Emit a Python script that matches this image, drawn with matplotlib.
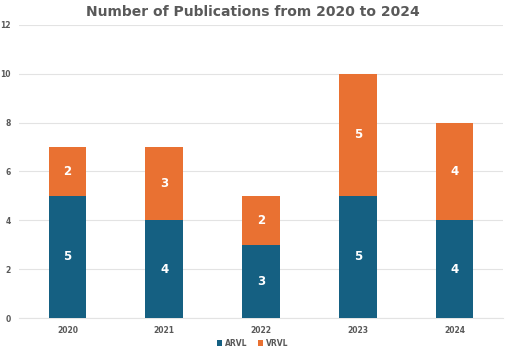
import numpy as np
import matplotlib.pyplot as plt

# Datos
years = ["2020", "2021", "2022", "2023", "2024"]
arvl = [5, 4, 3, 5, 4]
vrvl = [2, 3, 2, 5, 4]

col_arvl = "#156082"
col_vrvl = "#E97132"
gris = "#595959"

fig = plt.figure(figsize=(5.05, 3.51), dpi=100)
ax = fig.add_axes([0.038, 0.094, 0.958, 0.835])

x = np.arange(len(years))
w = 0.39
b1 = ax.bar(x, arvl, w, color=col_arvl, label="ARVL", zorder=3)
b2 = ax.bar(x, vrvl, w, bottom=arvl, color=col_vrvl, label="VRVL", zorder=3)

# Etiquetas dentro de las barras
for rects, vals in ((b1, arvl), (b2, vrvl)):
    for r, v in zip(rects, vals):
        ax.text(r.get_x() + r.get_width() / 2, r.get_y() + r.get_height() / 2, str(v),
                ha="center", va="center", color="white", fontsize=8.5, fontweight="bold", zorder=4)

ax.set_xlim(-0.5, len(years) - 0.5)
ax.set_ylim(0, 12)
ax.set_yticks(range(0, 13, 2))
ax.set_xticks(x)
ax.set_xticklabels(years)
ax.yaxis.grid(True, color="#E3E3E3", linewidth=0.8, zorder=0)
ax.tick_params(axis="both", length=0, labelsize=5.5, labelcolor=gris, pad=6)
for lab in ax.get_xticklabels() + ax.get_yticklabels():
    lab.set_fontweight("bold")
for s in ["top", "right", "left"]:
    ax.spines[s].set_visible(False)
ax.spines["bottom"].set_color("#E3E3E3")

fig.suptitle("Number of Publications from 2020 to 2024", x=0.5, y=0.985,
             fontsize=10, fontweight="bold", color=gris)
fig.legend(loc="lower center", bbox_to_anchor=(0.5, -0.01), ncol=2, frameon=False,
           handlelength=0.7, handleheight=0.7, handletextpad=0.3,
           columnspacing=1.4, labelcolor=gris, prop={"weight": "bold", "size": 5.5})

fig.savefig("out.png", dpi=100)
